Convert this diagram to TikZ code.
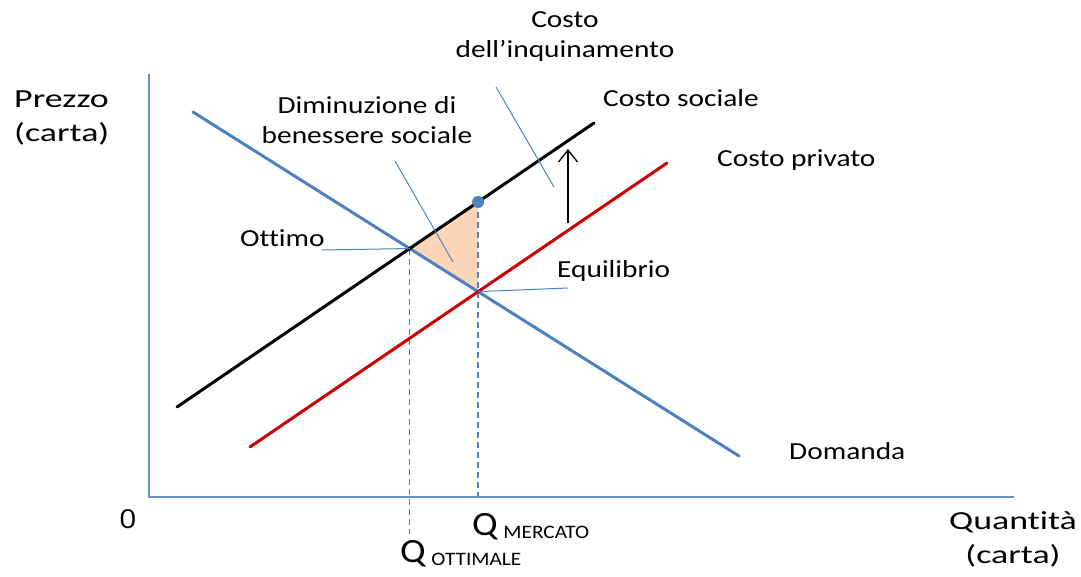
\documentclass[tikz,border=0pt]{standalone}
\usepackage{fontspec}
\setmainfont{Carlito}[FakeStretch=1.2, Ligatures=NoCommon]
\newfontfamily\axisfont{Carlito}[FakeStretch=1.38, Ligatures=NoCommon]
\newfontfamily\qfont{Carlito}[FakeStretch=1.12, Ligatures=NoCommon]
\newfontfamily\zerofont{Open Sans}[FakeStretch=1.15]
\usetikzlibrary{arrows.meta,intersections}
\definecolor{curveblue}{RGB}{79,129,189}
\definecolor{axisblue}{RGB}{100,145,200}
\definecolor{costred}{RGB}{204,0,0}
\definecolor{lossfill}{RGB}{251,213,181}
\tikzset{
  lbl/.style={font=\fontsize{24.5}{30}\selectfont, inner sep=0pt},
  axislbl/.style={font=\axisfont\fontsize{26}{34}\selectfont, inner sep=0pt},
  axisline/.style={axisblue, line width=1.8pt},
  curveline/.style={line width=3pt, line cap=round},
  pointer/.style={curveblue, line width=1pt},
  guide/.style={curveblue, line width=1.3pt, dash pattern=on 6pt off 4pt},
}
\begin{document}
\begin{tikzpicture}[x=1pt,y=-1pt]
    \useasboundingbox (0,0) rectangle (1081,576);

    \coordinate (ytop) at (149,74);
    \coordinate (O) at (149,497);
    \coordinate (xend) at (1014,497);
    \draw[axisline] (ytop) -- (O) -- (xend);

    \coordinate (d1) at (193,112);
    \coordinate (d2) at (739,456);
    \coordinate (s1) at (177,407);
    \coordinate (s2) at (594,123);
    \coordinate (p1) at (250,447);
    \coordinate (p2) at (667,163);

    \path[name path=dem] (d1) -- (d2);
    \path[name path=soc] (s1) -- (s2);
    \path[name path=priv] (p1) -- (p2);
    \path[name intersections={of=dem and soc, by=ottimo}];
    \path[name intersections={of=dem and priv, by=equil}];
    \path[name path=vert] (equil) -- ++(0,-200);
    \path[name intersections={of=vert and soc, by=top}];

    \fill[lossfill] (ottimo) -- (top) -- (equil) -- cycle;

    \draw[guide] (ottimo) -- (ottimo |- 0,534);
    \draw[guide] (top) -- (top |- O);

    \draw[curveline, curveblue] (d1) -- (d2);
    \draw[curveline, black] (s1) -- (s2);
    \draw[curveline, costred] (p1) -- (p2);
    \fill[curveblue] (top) circle (6);

    \coordinate (a1) at (568,223);
    \coordinate (a2) at (568,149);
    \draw[line width=1.3pt, -{Straight Barb[length=12pt,width=19pt]}] (a1) -- (a2);

    \node[axislbl, align=left, anchor=west] (prezzo) at (14,118) {Prezzo\\(carta)};
    \node[axislbl, align=center] (quant) at (1013,539) {Quantità\\(carta)};
    \node[inner sep=0pt, font=\zerofont\fontsize{26}{26}\selectfont] (zero) at (128,519) {0};

    \node[lbl, align=center] (inquin) at (565,37) {Costo\\dell’inquinamento};
    \node[lbl, align=center] (dimin) at (367,120) {Diminuzione di\\benessere sociale};
    \node[lbl, anchor=west] (csoc) at (603,98) {Costo sociale};
    \node[lbl, anchor=west] (cpriv) at (717,160) {Costo privato};
    \node[lbl, anchor=west] (ott) at (240,238) {Ottimo};
    \node[lbl, anchor=west] (equ) at (557,271) {Equilibrio};
    \node[lbl, anchor=west] (dom) at (789,451) {Domanda};

    \node[inner sep=0pt, anchor=base west] (qmerc) at (472,535)
        {\qfont\fontsize{34}{34}\selectfont Q\,\raisebox{-3pt}{\fontsize{19}{19}\selectfont MERCATO}};
    \node[inner sep=0pt, anchor=base west] (qott) at (400,562)
        {\qfont\fontsize{34}{34}\selectfont Q\,\raisebox{-3pt}{\fontsize{19}{19}\selectfont OTTIMALE}};

    \coordinate (inq1) at (496,87);
    \coordinate (inq2) at (554,187);
    \coordinate (dim1) at (395,161);
    \coordinate (dim2) at (453,262);
    \coordinate (ott1) at (322,250);
    \coordinate (equ1) at (568,288);
    \draw[pointer] (inq1) -- (inq2);
    \draw[pointer] (dim1) -- (dim2);
    \draw[pointer] (ott1) -- (ottimo);
    \draw[pointer] (equil) -- (equ1);
\end{tikzpicture}
\end{document}
